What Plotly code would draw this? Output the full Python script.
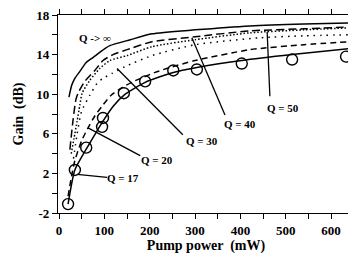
import plotly.graph_objects as go

# Measured data points (circles)
pts_x = [20, 35, 60, 95, 97, 143, 190, 252, 304, 403, 514, 633]
pts_y = [-1.1, 2.35, 4.6, 6.7, 7.6, 10.1, 11.3, 12.4, 12.5, 13.1, 13.5, 13.8]

# Theoretical curves
qinf_x = [22, 28, 35, 46, 60, 75, 95, 112, 157, 205, 300, 421, 540, 640]
qinf_y = [9.7, 10.9, 11.6, 12.3, 13.2, 13.7, 14.4, 14.9, 15.5, 16.1, 16.5, 16.9, 17.1, 17.2]

q50_x = [24, 31, 37, 42, 57, 79, 97, 119, 150, 205, 300, 421, 540, 640]
q50_y = [4.4, 7.4, 9.4, 10.1, 11.3, 12.4, 13.4, 14.0, 14.5, 15.3, 15.8, 16.4, 16.6, 16.8]

q40_x = [27, 33, 40, 46, 51, 68, 90, 112, 150, 205, 300, 421, 540, 640]
q40_y = [4.0, 5.5, 7.3, 8.9, 10.1, 11.4, 12.6, 13.4, 13.9, 14.8, 15.5, 16.2, 16.5, 16.7]

q30_x = [32, 40, 50, 68, 84, 97, 117, 146, 205, 300, 443, 540, 640]
q30_y = [3.5, 6.0, 8.3, 9.9, 11.1, 11.6, 12.1, 12.8, 13.9, 15.0, 15.7, 15.9, 16.0]

q20_x = [20, 28, 35, 50, 64, 79, 95, 115, 140, 165, 212, 245, 300, 421, 540, 640]
q20_y = [-0.3, 1.8, 3.3, 5.3, 6.6, 7.8, 8.8, 9.9, 10.7, 11.3, 12.2, 12.7, 13.4, 14.5, 15.0, 15.3]

q17_x = [20, 35, 62, 80, 96, 120, 146, 190, 252, 304, 403, 514, 640]
q17_y = [-1.1, 2.35, 4.6, 6.0, 7.2, 8.8, 10.0, 11.2, 12.2, 12.7, 13.4, 14.0, 14.6]

# Labels: text, text position, leader start (on curve), leader end
labels = ["Q -> \u221e", "Q = 50", "Q = 40", "Q = 30", "Q = 20", "Q = 17"]
label_x = [79, 494, 399, 315, 216, 141]
label_y = [15.7, 8.6, 7.0, 5.3, 3.4, 1.5]
lead_x0 = [None, 459, 293, 128, 64, 40]
lead_y0 = [None, 16.3, 15.7, 12.6, 6.6, 1.9]
lead_x1 = [None, 465, 366, 273, 179, 106]
lead_y1 = [None, 9.8, 7.9, 5.9, 3.8, 1.6]

xticks = list(range(0, 651, 50))
xtext = [str(v) if v % 100 == 0 else "" for v in xticks]
yticks = list(range(-2, 19, 2))
ytext = [str(v) if (v + 2) % 4 == 0 else "" for v in yticks]

FONT = "Liberation Serif"
fig = go.Figure()

line_w = 1.5
curves = [
    (qinf_x, qinf_y, "solid"),
    (q50_x, q50_y, "8px,4px"),
    (q40_x, q40_y, "1.5px,2px"),
    (q30_x, q30_y, "1.5px,5px"),
    (q20_x, q20_y, "6px,4px"),
    (q17_x, q17_y, "solid"),
]
for cx, cy, dash in curves:
    fig.add_trace(go.Scatter(x=cx, y=cy, mode="lines", line=dict(color="black", width=line_w, dash=dash, shape="spline", smoothing=0.6), showlegend=False, hoverinfo="skip"))

fig.add_trace(go.Scatter(x=pts_x, y=pts_y, mode="markers",
                         marker=dict(symbol="circle-open", size=11, color="black", line=dict(width=1.4, color="black")),
                         showlegend=False, hoverinfo="skip"))

for i, t in enumerate(labels):
    fig.add_annotation(x=label_x[i], y=label_y[i], text=t, showarrow=False,
                       font=dict(family=FONT, size=11, color="black", weight="bold"))
    if lead_x0[i] is not None:
        fig.add_shape(type="line", x0=lead_x0[i], y0=lead_y0[i], x1=lead_x1[i], y1=lead_y1[i],
                      xref="x", yref="y", line=dict(color="black", width=1.3))

axis_common = dict(showline=True, linecolor="black", linewidth=1.3, mirror="ticks",
                   ticks="outside", ticklen=5, tickwidth=1.2, tickcolor="black",
                   showgrid=False, zeroline=False, automargin=False,
                   ticklabeloverflow="allow",
                   tickfont=dict(family=FONT, size=13, color="black", weight="bold"))

fig.update_xaxes(range=[-2.2, 650.5], tickmode="array", tickvals=xticks, ticktext=xtext,
                 title=dict(text="Pump power  (mW)", font=dict(family=FONT, size=14, color="black", weight="bold"), standoff=2),
                 **axis_common)
fig.update_yaxes(range=[-2, 18], tickmode="array", tickvals=yticks, ticktext=ytext,
                 title=dict(text="Gain  (dB)", font=dict(family=FONT, size=14, color="black", weight="bold"), standoff=9),
                 **axis_common)

# page body has an 8px margin; size/margins compensate so the plot area lands where the reference has it
fig.update_layout(width=348, height=246, margin=dict(l=50, r=2, t=7, b=41),
                  paper_bgcolor="white", plot_bgcolor="white", showlegend=False)

fig.write_html("out.html")
